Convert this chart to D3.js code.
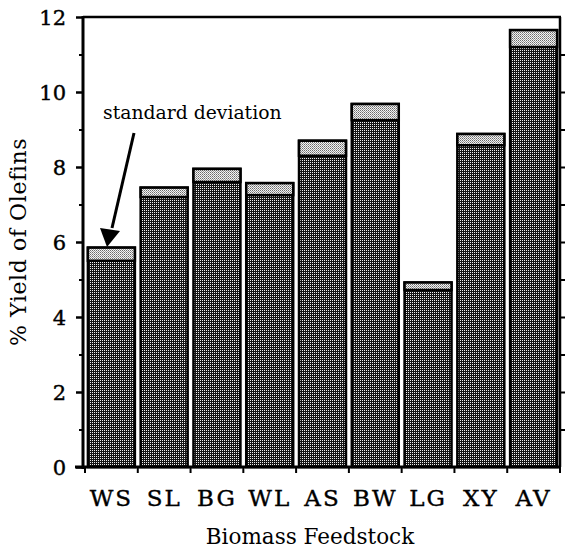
<!DOCTYPE html>
<html>
<head>
<meta charset="utf-8">
<script src="https://cdn.jsdelivr.net/npm/d3@7"></script>
<style>
  body { margin: 0; background: #fff; }
  svg text { font-family: "DejaVu Serif", "Liberation Serif", serif; fill: #000; }
</style>
</head>
<body>
<svg id="chart" width="567" height="548"></svg>
<script>
var categories = ["WS", "SL", "BG", "WL", "AS", "BW", "LG", "XY", "AV"];
var means = [5.5, 7.2, 7.6, 7.25, 8.3, 9.25, 4.72, 8.58, 11.2];
var stdevs = [0.35, 0.25, 0.35, 0.32, 0.4, 0.43, 0.2, 0.3, 0.45];
var majorTicks = [0, 2, 4, 6, 8, 10, 12];
var minorTicks = [1, 3, 5, 7, 9, 11];

var svg = d3.select("#chart");
var plotLeft = 83, plotRight = 560, plotTop = 17, plotBottom = 467;

var x = d3.scaleBand()
    .domain(categories)
    .range([85, plotRight])
    .paddingInner(0.11)
    .paddingOuter(0.055);

var y = d3.scaleLinear().domain([0, 12]).range([plotBottom, plotTop]);

// fill patterns (halftone look)
var defs = svg.append("defs");
var dark = defs.append("pattern").attr("id", "dark")
    .attr("patternUnits", "userSpaceOnUse").attr("width", 2).attr("height", 2);
dark.append("rect").attr("width", 2).attr("height", 2).attr("fill", "#151515");
dark.append("rect").attr("width", 1).attr("height", 1).attr("fill", "#f0f0f0");

var light = defs.append("pattern").attr("id", "light")
    .attr("patternUnits", "userSpaceOnUse").attr("width", 2).attr("height", 2);
light.append("rect").attr("width", 2).attr("height", 2).attr("fill", "#f4f4f4");
light.append("rect").attr("width", 1).attr("height", 1).attr("fill", "#6a6a6a");
light.append("rect").attr("x", 1).attr("y", 1).attr("width", 1).attr("height", 1).attr("fill", "#9a9a9a");

var data = categories.map(function(c, i){ return {cat: c, mean: means[i], sd: stdevs[i]}; });

var bars = svg.selectAll(".bar")
    .data(data)
    .enter()
    .append("g")
    .attr("class", "bar");

bars.append("rect")
    .attr("x", function(d){ return x(d.cat); })
    .attr("y", function(d){ return y(d.mean + d.sd); })
    .attr("width", x.bandwidth())
    .attr("height", function(d){ return y(0) - y(d.mean + d.sd); })
    .attr("fill", "url(#dark)")
    .attr("stroke", "#000")
    .attr("stroke-width", 2.5);

bars.append("rect")
    .attr("x", function(d){ return x(d.cat); })
    .attr("y", function(d){ return y(d.mean + d.sd); })
    .attr("width", x.bandwidth())
    .attr("height", function(d){ return y(d.mean) - y(d.mean + d.sd); })
    .attr("fill", "url(#light)")
    .attr("stroke", "#000")
    .attr("stroke-width", 2.5);

// frame
svg.append("line").attr("x1", plotLeft).attr("x2", plotRight + 1).attr("y1", plotTop).attr("y2", plotTop)
    .attr("stroke", "#000").attr("stroke-width", 2.5);
svg.append("line").attr("x1", plotRight).attr("x2", plotRight).attr("y1", plotTop).attr("y2", plotBottom)
    .attr("stroke", "#000").attr("stroke-width", 2.5);

// left axis
var yAxis = svg.append("g").attr("transform", "translate(" + plotLeft + ",0)")
    .call(d3.axisLeft(y).tickValues(majorTicks).tickSize(7).tickPadding(10).tickFormat(d3.format("d")));
yAxis.select(".domain").remove();
yAxis.selectAll("line").attr("stroke-width", 2.5);
yAxis.selectAll("text").style("font-size", "21px").style("stroke", "#000").style("stroke-width", 0.4).attr("dy", "0.36em");

var yMinor = svg.append("g").attr("transform", "translate(" + plotLeft + ",0)")
    .call(d3.axisLeft(y).tickValues(minorTicks).tickSize(4).tickFormat(""));
yMinor.select(".domain").remove();
yMinor.selectAll("line").attr("stroke-width", 2);

svg.append("line").attr("x1", plotLeft).attr("x2", plotLeft).attr("y1", plotTop - 1).attr("y2", plotBottom + 2)
    .attr("stroke", "#000").attr("stroke-width", 3);

// right axis ticks
var yRight = svg.append("g").attr("transform", "translate(" + plotRight + ",0)")
    .call(d3.axisRight(y).tickValues(d3.range(1, 12)).tickSize(5).tickFormat(""));
yRight.select(".domain").remove();
yRight.selectAll("line").attr("stroke-width", 2);

// bottom axis
svg.append("line").attr("x1", plotLeft - 8).attr("x2", plotRight + 1).attr("y1", plotBottom).attr("y2", plotBottom)
    .attr("stroke", "#000").attr("stroke-width", 3);

var bounds = d3.range(categories.length + 1).map(function(i){ return x.range()[0] + i * x.step(); });
svg.selectAll(".xtick")
    .data(bounds)
    .enter()
    .append("line")
    .attr("class", "xtick")
    .attr("x1", function(d){ return d; })
    .attr("x2", function(d){ return d; })
    .attr("y1", plotBottom)
    .attr("y2", plotBottom + 6)
    .attr("stroke", "#000")
    .attr("stroke-width", 2);

svg.selectAll(".xlabel")
    .data(categories)
    .enter()
    .append("text")
    .attr("class", "xlabel")
    .attr("x", function(d){ return x(d) + x.bandwidth() / 2; })
    .attr("y", 506)
    .attr("text-anchor", "middle")
    .style("font-size", "23px")
    .style("letter-spacing", "2px")
    .style("stroke", "#000").style("stroke-width", 0.4)
    .text(function(d){ return d; });

svg.append("text")
    .attr("x", 310).attr("y", 544)
    .attr("text-anchor", "middle")
    .style("font-size", "21.5px")
    .text("Biomass Feedstock");

svg.append("text")
    .attr("transform", "translate(26,242) rotate(-90)")
    .attr("text-anchor", "middle")
    .style("font-size", "22px")
    .style("letter-spacing", "0.6px")
    .text("% Yield of Olefins");

// annotation
svg.append("text")
    .attr("x", 103).attr("y", 119)
    .style("font-size", "18.8px")
    .text("standard deviation");

svg.append("line")
    .attr("x1", 134).attr("y1", 133)
    .attr("x2", 112).attr("y2", 228)
    .attr("stroke", "#000").attr("stroke-width", 3);
svg.append("path")
    .attr("d", "M100,228 L120,231 L107,247 Z")
    .attr("fill", "#000");
</script>
</body>
</html>
